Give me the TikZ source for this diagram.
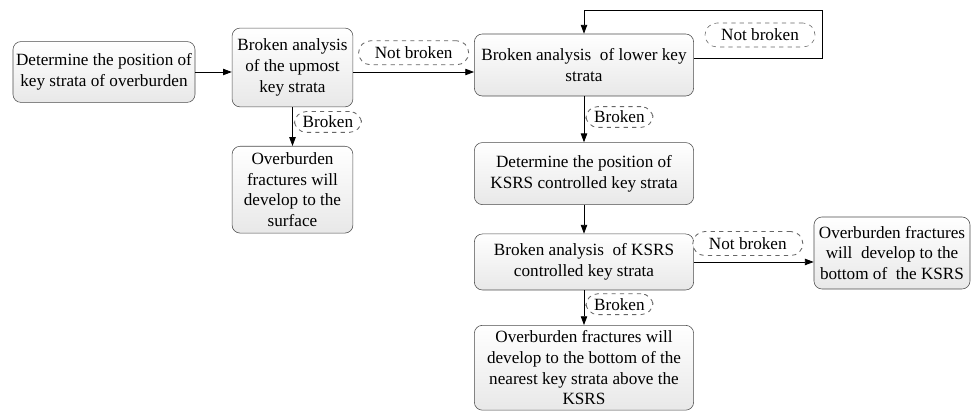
\documentclass[tikz,border=0pt]{standalone}
\usepackage{fontspec}
\setmainfont{Liberation Serif}
\usetikzlibrary{arrows.meta,positioning}

\begin{document}
\begin{tikzpicture}[
        x=0.025cm, y=-0.025cm,
        node distance=0.9cm,
        box/.style={rectangle, rounded corners=0.2cm, draw=black!70, top color=white, bottom color=black!9,
            align=center, inner sep=1pt, font=\fontsize{12.2}{14.8}\selectfont},
        tag/.style={rectangle, rounded corners=0.3cm, draw=black!60, dashed, fill=white,
            minimum height=0.6cm, inner xsep=2pt, inner ysep=1pt, font=\fontsize{12.2}{14.8}\selectfont},
        nbtag/.style={tag, minimum width=2.75cm},
        btag/.style={tag, minimum width=1.68cm, minimum height=0.52cm},
        arrow/.style={-{Triangle[length=2.2mm, width=1.6mm]}, semithick}
    ]
        \useasboundingbox (0,0) rectangle (976,411);

        \node[box, minimum width=4.55cm, minimum height=1.52cm] (keypos) at (104,72) {Determine the position of\\key strata of overburden};
        \node[box, minimum width=3.02cm, minimum height=1.97cm] (upmost) at (292.5,67.5) {Broken analysis\\of the upmost\\key strata};
        \node[box, minimum width=3.02cm, minimum height=2.17cm, below=0.97cm of upmost] (surface) {Overburden\\fractures will\\develop to the\\surface};
        \node[box, minimum width=5.48cm, minimum height=1.55cm] (lower) at (584,65) {Broken analysis~ of lower key\\strata};
        \node[box, minimum width=5.48cm, minimum height=1.55cm, below=1.15cm of lower] (ksrspos) {Determine the position of\\KSRS controlled key strata};
        \node[box, minimum width=5.48cm, minimum height=1.4cm, below=0.72cm of ksrspos] (ksrsbrk) {Broken analysis~ of KSRS\\controlled key strata};
        \node[box, minimum width=5.48cm, minimum height=2.12cm, below=0.87cm of ksrsbrk] (nearest) {Overburden fractures will\\develop to the bottom of the\\nearest key strata above the\\KSRS};
        \node[box, minimum width=3.9cm, minimum height=1.8cm] (ksrsbot) at (892,253) {Overburden fractures\\will~ develop to the\\bottom of~ the KSRS};

        \coordinate (loop) at (822,10);

        \draw[arrow] (keypos.east) -- (keypos.east -| upmost.west);
        \draw[arrow] (upmost.east |- keypos.east) -- node[nbtag, above=0.17cm, pos=0.5] (nb1) {Not broken} (lower.west |- keypos.east);
        \draw[arrow] (upmost) -- node[btag, right=1pt, pos=0.38] (b1) {Broken} (surface);
        \draw[arrow] ([yshift=0.175cm]lower.east) -| (loop) -| (lower.north);
        \node[nbtag] (nb2) at (760,35) {Not broken};
        \draw[arrow] (lower) -- node[btag, right=1pt, pos=0.45] (b2) {Broken} (ksrspos);
        \draw[arrow] (ksrspos) -- (ksrsbrk);
        \draw[arrow] (ksrsbrk.east) -- node[nbtag, above=0.15cm, pos=0.45] (nb3) {Not broken} (ksrsbrk.east -| ksrsbot.west);
        \draw[arrow] (ksrsbrk) -- node[btag, right=1pt, pos=0.4] (b3) {Broken} (nearest);
    \end{tikzpicture}
\end{document}
